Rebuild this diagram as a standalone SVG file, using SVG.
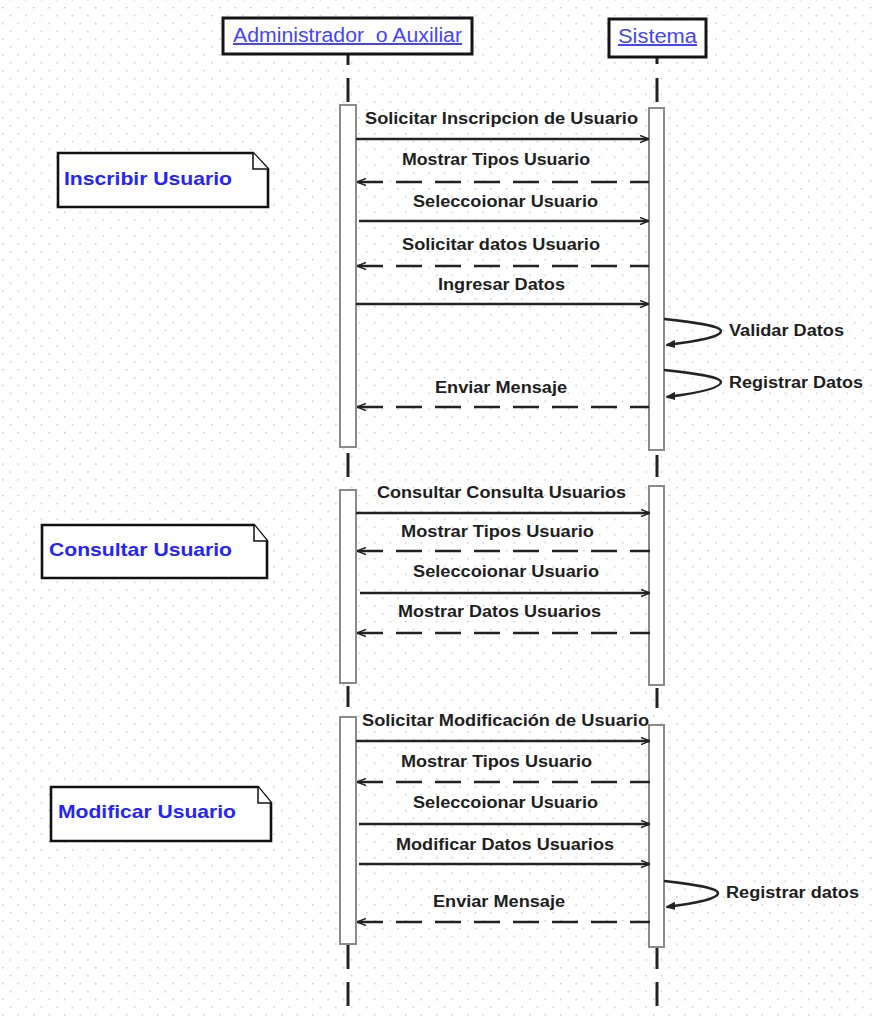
<svg xmlns="http://www.w3.org/2000/svg" width="874" height="1022" viewBox="0 0 874 1022">
<defs>
<pattern id="grid" patternUnits="userSpaceOnUse" x="2" y="7" width="15.5" height="15.74">
<rect x="0" y="0" width="1.4" height="1.4" fill="#c4c4c4"/>
<rect x="7.75" y="7.87" width="1.4" height="1.4" fill="#c4c4c4"/>
</pattern>
<marker id="arr" viewBox="0 0 10 10" refX="10" refY="5" markerWidth="9" markerHeight="9" markerUnits="userSpaceOnUse" orient="auto-start-reverse">
<path d="M0,1 L10,5 L0,9" fill="none" stroke="#222" stroke-width="1.6"/>
</marker>
<marker id="selfarr" viewBox="0 0 10 10" refX="9" refY="5" markerWidth="9" markerHeight="9" markerUnits="userSpaceOnUse" orient="auto">
<path d="M0,1 L10,5 L0,9 Z" fill="#222" stroke="#222" stroke-width="1"/>
</marker>
</defs>
<style>
.actor{fill:#fff;stroke:#151515;stroke-width:3}
.atext{font-family:"Liberation Sans",Arial,sans-serif;font-size:20px;fill:#4444ff;text-decoration:underline;white-space:pre}
.ll{stroke:#222;stroke-width:3;fill:none}
.act{fill:#fff;stroke:#8a8a8a;stroke-width:2}
.msg{stroke:#222;stroke-width:2.4;fill:none}
.ret{stroke:#222;stroke-width:2.6;fill:none;stroke-dasharray:26 13}
.self{stroke:#222;stroke-width:2.4;fill:none}
.lbl{font-family:"Liberation Sans",Arial,sans-serif;font-size:16px;font-weight:bold;fill:#1e1e1e}
.note{fill:#fff;stroke:#111;stroke-width:2.6}
.fold{fill:#fff;stroke:#111;stroke-width:1.5}
.ntext{font-family:"Liberation Sans",Arial,sans-serif;font-size:18.5px;font-weight:bold;fill:#2424ff}
</style>
<rect x="0" y="0" width="874" height="1022" fill="#fff"/>
<rect x="0" y="0" width="874" height="1022" fill="url(#grid)"/>

<g id="lifelines">
<path class="ll" d="M348,54 V65 M348,78 V102 M348,453 V477 M348,686 V707 M348,944 V969 M348,982 V1006"/>
<path class="ll" d="M657,57 V64 M657,78 V102 M657,455 V477 M657,688 V708 M657,947 V969 M657,982 V1006"/>
</g>

<g id="actor-admin">
<rect class="actor" x="223" y="18" width="249" height="36"/>
<text class="atext" x="233" y="42" textLength="229" lengthAdjust="spacingAndGlyphs" xml:space="preserve">Administrador  o Auxiliar</text>
</g>
<g id="actor-sistema">
<rect class="actor" x="609" y="19" width="97" height="38"/>
<text class="atext" x="618" y="43" textLength="79" lengthAdjust="spacingAndGlyphs">Sistema</text>
</g>

<g id="activations">
<rect class="act" x="340" y="105" width="16" height="342"/>
<rect class="act" x="649" y="108" width="15" height="342"/>
<rect class="act" x="340" y="490" width="16" height="193"/>
<rect class="act" x="649" y="486" width="15" height="199"/>
<rect class="act" x="340" y="717" width="16" height="227"/>
<rect class="act" x="649" y="725" width="15" height="222"/>
</g>

<g id="note-inscribir">
<path class="note" d="M58,153 H253 L268,169 V207 H58 Z"/>
<path class="fold" d="M253,153 V169 H268"/>
<text class="ntext" x="64" y="185" textLength="168" lengthAdjust="spacingAndGlyphs">Inscribir Usuario</text>
</g>
<g id="note-consultar">
<path class="note" d="M42,525 H254 L267,541 V578 H42 Z"/>
<path class="fold" d="M254,525 V541 H267"/>
<text class="ntext" x="49" y="556" textLength="183" lengthAdjust="spacingAndGlyphs">Consultar Usuario</text>
</g>
<g id="note-modificar">
<path class="note" d="M51,787 H258 L271,803 V841 H51 Z"/>
<path class="fold" d="M258,787 V803 H271"/>
<text class="ntext" x="58" y="818" textLength="178" lengthAdjust="spacingAndGlyphs">Modificar Usuario</text>
</g>

<g id="connectors">
<path class="msg" d="M356,139 H649" marker-end="url(#arr)"/>
<path class="ret" d="M357,182 H649" marker-start="url(#arr)"/>
<path class="msg" d="M359,221 H649" marker-end="url(#arr)"/>
<path class="ret" d="M357,266 H649" marker-start="url(#arr)"/>
<path class="msg" d="M356,304 H649" marker-end="url(#arr)"/>
<path class="self" d="M664,319 C700,323 721,326 721,331 C721,337 698,341 667,345" marker-end="url(#selfarr)"/>
<path class="self" d="M664,370 C700,374 721,377 721,382 C721,388 698,393 667,397" marker-end="url(#selfarr)"/>
<path class="ret" d="M357,407 H649" marker-start="url(#arr)"/>

<path class="msg" d="M356,513 H650" marker-end="url(#arr)"/>
<path class="ret" d="M357,551 H650" marker-start="url(#arr)"/>
<path class="msg" d="M360,593 H650" marker-end="url(#arr)"/>
<path class="ret" d="M357,633 H650" marker-start="url(#arr)"/>

<path class="msg" d="M356,741 H650" marker-end="url(#arr)"/>
<path class="ret" d="M357,782 H650" marker-start="url(#arr)"/>
<path class="msg" d="M359,824 H650" marker-end="url(#arr)"/>
<path class="msg" d="M359,864 H650" marker-end="url(#arr)"/>
<path class="self" d="M664,881 C698,885 718,888 718,893 C718,899 696,903 667,907" marker-end="url(#selfarr)"/>
<path class="ret" d="M357,922 H650" marker-start="url(#arr)"/>
</g>

<g id="labels">
<text class="lbl" x="365" y="124" textLength="273" lengthAdjust="spacingAndGlyphs">Solicitar Inscripcion de Usuario</text>
<text class="lbl" x="402" y="165" textLength="188" lengthAdjust="spacingAndGlyphs">Mostrar Tipos Usuario</text>
<text class="lbl" x="413" y="207" textLength="185" lengthAdjust="spacingAndGlyphs">Seleccoionar Usuario</text>
<text class="lbl" x="402" y="250" textLength="198" lengthAdjust="spacingAndGlyphs">Solicitar datos Usuario</text>
<text class="lbl" x="438" y="290" textLength="127" lengthAdjust="spacingAndGlyphs">Ingresar Datos</text>
<text class="lbl" x="729" y="336" textLength="115" lengthAdjust="spacingAndGlyphs">Validar Datos</text>
<text class="lbl" x="729" y="388" textLength="134" lengthAdjust="spacingAndGlyphs">Registrar Datos</text>
<text class="lbl" x="435" y="393" textLength="132" lengthAdjust="spacingAndGlyphs">Enviar Mensaje</text>

<text class="lbl" x="377" y="498" textLength="249" lengthAdjust="spacingAndGlyphs">Consultar Consulta Usuarios</text>
<text class="lbl" x="401" y="537" textLength="193" lengthAdjust="spacingAndGlyphs">Mostrar Tipos Usuario</text>
<text class="lbl" x="413" y="577" textLength="186" lengthAdjust="spacingAndGlyphs">Seleccoionar Usuario</text>
<text class="lbl" x="398" y="617" textLength="203" lengthAdjust="spacingAndGlyphs">Mostrar Datos Usuarios</text>

<text class="lbl" x="362" y="726" textLength="287" lengthAdjust="spacingAndGlyphs">Solicitar Modificación de Usuario</text>
<text class="lbl" x="401" y="767" textLength="191" lengthAdjust="spacingAndGlyphs">Mostrar Tipos Usuario</text>
<text class="lbl" x="413" y="808" textLength="185" lengthAdjust="spacingAndGlyphs">Seleccoionar Usuario</text>
<text class="lbl" x="396" y="850" textLength="218" lengthAdjust="spacingAndGlyphs">Modificar Datos Usuarios</text>
<text class="lbl" x="726" y="898" textLength="133" lengthAdjust="spacingAndGlyphs">Registrar datos</text>
<text class="lbl" x="433" y="907" textLength="132" lengthAdjust="spacingAndGlyphs">Enviar Mensaje</text>
</g>
</svg>
